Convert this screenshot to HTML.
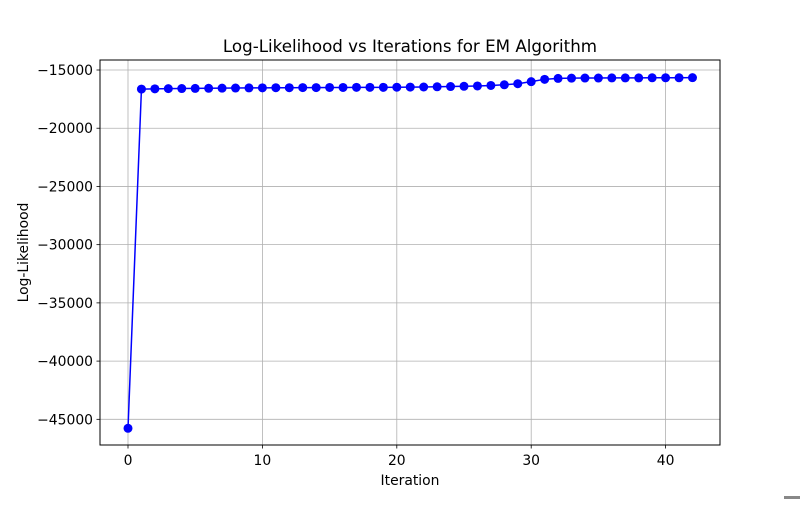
<!DOCTYPE html>
<html><head><meta charset="utf-8"><style>
body{margin:0;background:#fff;}
svg text{font-family:"DejaVu Sans","Liberation Sans",sans-serif;fill:#000;}
</style></head><body>
<svg id="chart" width="800" height="500" xmlns="http://www.w3.org/2000/svg">
<rect width="800" height="500" fill="#fff"/>
<text x="410" y="52" font-size="16.7" text-anchor="middle">Log-Likelihood vs Iterations for EM Algorithm</text>
<g id="grid"></g>
<g id="series"></g>
<rect x="100" y="60" width="620" height="385" fill="none" stroke="#000" stroke-width="1"/>
<g id="ticks"></g>
<text x="410" y="485" font-size="13.9" text-anchor="middle">Iteration</text>
<text transform="translate(28,252.5) rotate(-90)" font-size="13.9" text-anchor="middle">Log-Likelihood</text>
<rect x="784" y="496" width="16" height="3" fill="#888"/>
</svg>
<script>
const xTicks=[0,10,20,30,40];
const yTicks=[-15000,-20000,-25000,-30000,-35000,-40000,-45000];
const yTickLabels=["\u221215000","\u221220000","\u221225000","\u221230000","\u221235000","\u221240000","\u221245000"];
const iterations=[0,1,2,3,4,5,6,7,8,9,10,11,12,13,14,15,16,17,18,19,20,21,22,23,24,25,26,27,28,29,30,31,32,33,34,35,36,37,38,39,40,41,42];
const logLik=[-45770,-16640,-16620,-16600,-16590,-16580,-16570,-16560,-16550,-16540,-16530,-16520,-16520,-16510,-16510,-16500,-16500,-16490,-16490,-16490,-16480,-16470,-16460,-16440,-16420,-16400,-16370,-16330,-16270,-16180,-16000,-15800,-15720,-15700,-15690,-15690,-15680,-15680,-15680,-15670,-15670,-15670,-15660];
const NS="http://www.w3.org/2000/svg";
const xs=v=>128+(v-0)*13.44;
const ys=v=>70+(-15000-v)/5000*58.22;
function mk(tag,attrs,parent){const e=document.createElementNS(NS,tag);for(const k in attrs)e.setAttribute(k,attrs[k]);document.getElementById(parent).appendChild(e);return e;}
xTicks.forEach(t=>{
 const g=mk('line',{x1:xs(t),x2:xs(t),y1:60,y2:445,stroke:'#b0b0b0','stroke-width':0.8},'grid');
 
 
 const tk=mk('line',{x1:xs(t),x2:xs(t),y1:445,y2:448.5,stroke:'#000','stroke-width':0.8},'ticks');
 
 
 const tl=mk('text',{x:xs(t),y:465,'font-size':13.9,'text-anchor':'middle'},'ticks');
 tl.textContent=t;
 
 
});
yTicks.forEach((t,i)=>{
 const g=mk('line',{x1:100,x2:720,y1:ys(t),y2:ys(t),stroke:'#b0b0b0','stroke-width':0.8},'grid');
 
 
 const tk=mk('line',{x1:96.5,x2:100,y1:ys(t),y2:ys(t),stroke:'#000','stroke-width':0.8},'ticks');
 
 
 const tl=mk('text',{x:93,y:ys(t)+5,'font-size':13.9,'text-anchor':'end'},'ticks');
 tl.textContent=yTickLabels[i];
 
 
});
const pts=iterations.map((x,i)=>xs(x)+','+ys(logLik[i])).join(' ');
const line=mk('polyline',{points:pts,fill:'none',stroke:'#0000ff','stroke-width':1.5},'series');


iterations.forEach((x,i)=>{
 const c=mk('circle',{cx:xs(x),cy:ys(logLik[i]),r:4.5,fill:'#0000ff'},'series');
 
 
});
</script>
</body></html>
